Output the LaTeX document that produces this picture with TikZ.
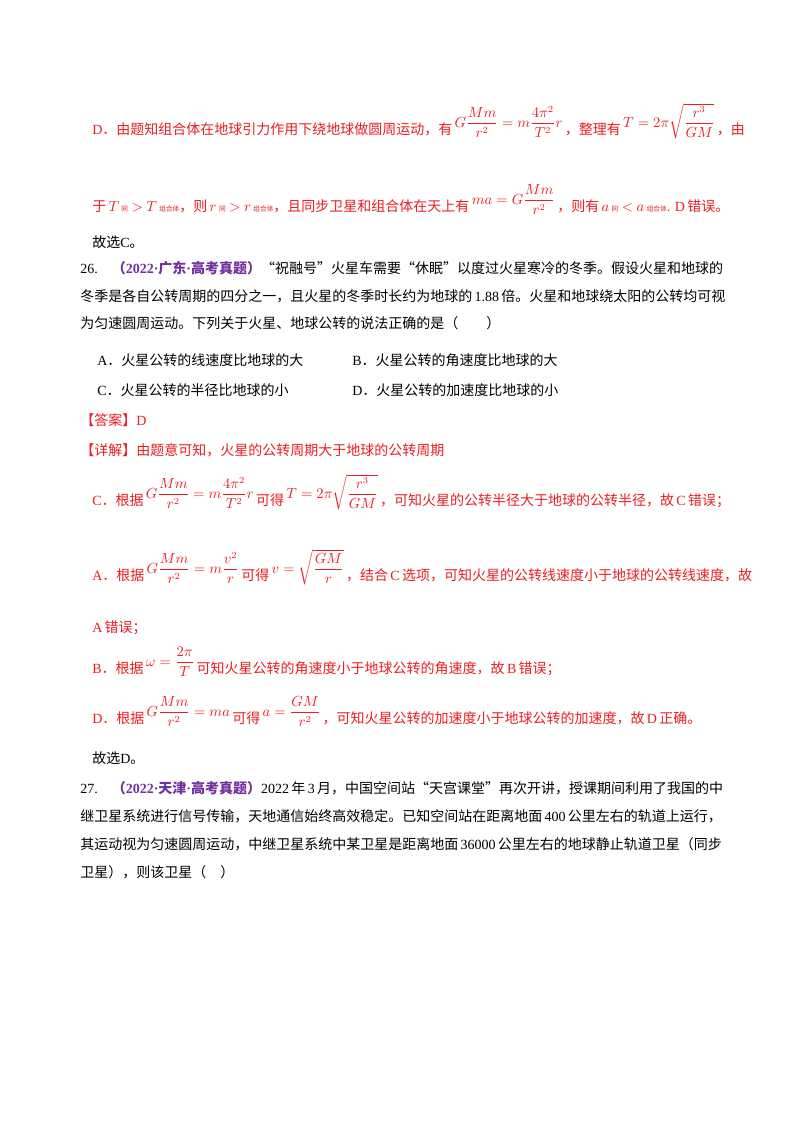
\documentclass[tikz,border=0pt]{standalone}
\usepackage{fontspec}
\setmainfont{Liberation Serif}
\newfontfamily\cjk{Noto Sans CJK SC}
\usepackage{amsmath}
\definecolor{ans}{RGB}{235,30,35}
\definecolor{src}{RGB}{112,48,160}
\newcommand{\C}[1]{{\cjk #1}}
\newcommand{\fm}[1]{\,\raisebox{5pt}{$#1$}\,}
\begin{document}
\begin{tikzpicture}[x=0.75pt,y=-0.75pt,
  ln/.style={anchor=base west,inner sep=0pt,font=\fontsize{10.5}{12}\selectfont},
  rl/.style={ln,text=ans}]
\useasboundingbox[fill=white] (0,0) rectangle (800,1132);
\node[rl] (l1) at (92,134) {D\C{．由题知组合体在地球引力作用下绕地球做圆周运动，有}\fm{G\dfrac{Mm}{r^2}=m\dfrac{4\pi^2}{T^2}r}\C{，整理有}\fm{T=2\pi\sqrt{\dfrac{r^3}{GM}}}\C{，由}};
\node[rl] (l2) at (92,211) {\C{于}\,$T$\,{\tiny\C{同}} $>$ $T$\,{\tiny\C{组合体}}\C{，则}\,$r$\,{\tiny\C{同}} $>$ $r$\,{\tiny\C{组合体}}\C{，且同步卫星和组合体在天上有}\fm{ma=G\dfrac{Mm}{r^2}}\C{，则有}\,$a$\,{\tiny\C{同}} $<$ $a$\,{\tiny\C{组合体}}. D\,\C{错误。}};
\node[ln] (l3) at (92,247) {\C{故选}C\C{。}};
\node[ln] (q26) at (80,273) {26.\quad{\color{src}\bfseries\C{（}2022·\C{广东}·\C{高考真题）}}\C{“祝融号”火星车需要“休眠”以度过火星寒冷的冬季。假设火星和地球的}};
\node[ln] (q26b) at (80,301) {\C{冬季是各自公转周期的四分之一，且火星的冬季时长约为地球的}\,1.88\,\C{倍。火星和地球绕太阳的公转均可视}};
\node[ln] (q26c) at (80,328) {\C{为匀速圆周运动。下列关于火星、地球公转的说法正确的是（\qquad）}};
\node[ln] (oa) at (97,365) {A\C{．火星公转的线速度比地球的大}};
\node[ln] (ob) at (352,365) {B\C{．火星公转的角速度比地球的大}};
\node[ln] (oc) at (97,395) {C\C{．火星公转的半径比地球的小}};
\node[ln] (od) at (352,395) {D\C{．火星公转的加速度比地球的小}};
\node[rl] (ans) at (80,425) {\C{【答案】}D};
\node[rl] (det) at (80,455) {\C{【详解】由题意可知，火星的公转周期大于地球的公转周期}};
\node[rl] (c1) at (92,505) {C\C{．根据}\fm{G\dfrac{Mm}{r^2}=m\dfrac{4\pi^2}{T^2}r}\C{可得}\fm{T=2\pi\sqrt{\dfrac{r^3}{GM}}}\C{，可知火星的公转半径大于地球的公转半径，故}\,C\,\C{错误；}};
\node[rl] (a1) at (92,580) {A\C{．根据}\fm{G\dfrac{Mm}{r^2}=m\dfrac{v^2}{r}}\C{可得}\fm{v=\sqrt{\dfrac{GM}{r}}}\C{，结合}\,C\,\C{选项，可知火星的公转线速度小于地球的公转线速度，故}};
\node[rl] (a2) at (92,632) {A\,\C{错误；}};
\node[rl] (b1) at (92,673) {B\C{．根据}\fm{\omega=\dfrac{2\pi}{T}}\C{可知火星公转的角速度小于地球公转的角速度，故}\,B\,\C{错误；}};
\node[rl] (d1) at (92,723) {D\C{．根据}\fm{G\dfrac{Mm}{r^2}=ma}\C{可得}\fm{a=\dfrac{GM}{r^2}}\C{，可知火星公转的加速度小于地球公转的加速度，故}\,D\,\C{正确。}};
\node[ln] (e1) at (92,763) {\C{故选}D\C{。}};
\node[ln] (q27) at (80,793) {27.\quad{\color{src}\bfseries\C{（}2022·\C{天津}·\C{高考真题）}}2022\,\C{年}\,3\,\C{月，中国空间站“天宫课堂”再次开讲，授课期间利用了我国的中}};
\node[ln] (q27b) at (80,821) {\C{继卫星系统进行信号传输，天地通信始终高效稳定。已知空间站在距离地面}\,400\,\C{公里左右的轨道上运行，}};
\node[ln] (q27c) at (80,849) {\C{其运动视为匀速圆周运动，中继卫星系统中某卫星是距离地面}\,36000\,\C{公里左右的地球静止轨道卫星（同步}};
\node[ln] (q27d) at (80,877) {\C{卫星），则该卫星（\quad）}};
\end{tikzpicture}
\end{document}
